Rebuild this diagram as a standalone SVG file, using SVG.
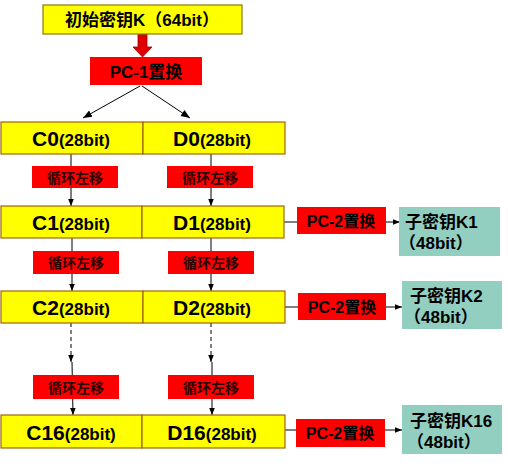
<svg xmlns="http://www.w3.org/2000/svg" width="508" height="471" viewBox="0 0 508 471">
<defs>
<style>
.y{fill:#FFFF00;stroke:#A0640A;stroke-width:1.2}
.r{fill:#FF0000;stroke:none}
.t{fill:#93CFC0;stroke:none}
.tx{font-family:"Liberation Sans","Noto Sans CJK SC",sans-serif;font-weight:bold;fill:#000}
.big{font-size:21px}
.sm{font-size:17px}
.cj{font-family:"Noto Sans CJK SC",sans-serif;font-size:14px;font-weight:bold;fill:#2a0000}
.ln{stroke:#000;stroke-width:1;fill:none}
.ds{stroke:#000;stroke-width:1;fill:none;stroke-dasharray:4,3}
</style>
<marker id="ah" viewBox="0 0 10 10" refX="10" refY="5" markerWidth="7" markerHeight="7" orient="auto" markerUnits="userSpaceOnUse">
<path d="M0,1 L10,5 L0,9 z" fill="#000"/>
</marker>
<marker id="ah2" viewBox="0 0 10 10" refX="10" refY="5" markerWidth="9" markerHeight="9" orient="auto" markerUnits="userSpaceOnUse">
<path d="M0,1 L10,5 L0,9 z" fill="#000"/>
</marker>
</defs>
<rect width="508" height="471" fill="#fff"/>
<g id="connectors">
<path d="M138,34 H147 V47 H152 L142.5,57 L133,47 H138 Z" fill="#E00000" stroke="#A00000" stroke-width="0.8"/>
<line class="ln" x1="140" y1="86" x2="83" y2="118" marker-end="url(#ah2)"/>
<line class="ln" x1="142" y1="86" x2="190" y2="118" marker-end="url(#ah2)"/>
<line class="ln" x1="71" y1="154" x2="71" y2="206" marker-end="url(#ah)"/>
<line class="ln" x1="211" y1="154" x2="211" y2="206" marker-end="url(#ah)"/>
<line class="ln" x1="72" y1="238" x2="72" y2="291" marker-end="url(#ah)"/>
<line class="ln" x1="211" y1="238" x2="211" y2="291" marker-end="url(#ah)"/>
<line class="ds" x1="71" y1="323" x2="71" y2="362" marker-end="url(#ah)"/>
<line class="ds" x1="211" y1="323" x2="211" y2="362" marker-end="url(#ah)"/>
<line class="ln" x1="72" y1="362" x2="73" y2="415" marker-end="url(#ah)"/>
<line class="ln" x1="212" y1="362" x2="212" y2="415" marker-end="url(#ah)"/>
<line class="ln" x1="284" y1="222" x2="297" y2="222"/>
<line class="ln" x1="386" y1="222" x2="400" y2="222" marker-end="url(#ah)"/>
<line class="ln" x1="285" y1="307" x2="298" y2="307"/>
<line class="ln" x1="386" y1="307" x2="402" y2="307" marker-end="url(#ah)"/>
<line class="ln" x1="285" y1="430" x2="296" y2="430"/>
<line class="ln" x1="385" y1="430" x2="402" y2="430" marker-end="url(#ah)"/>
</g>
<g id="key">
<rect x="43" y="5" width="199" height="29" fill="#FFFF00" stroke="#8B7A00" stroke-width="1.2"/>
<text class="tx sm" x="142" y="26" text-anchor="middle">初始密钥K（64bit）</text>
</g>
<g id="pc1">
<rect class="r" x="90" y="57" width="112" height="28"/>
<text class="tx sm" x="146" y="78" text-anchor="middle">PC-1置换</text>
</g>
<g id="c0"><rect class="y" x="1" y="122" width="142" height="32"/><text class="tx" x="71" y="146" text-anchor="middle"><tspan class="big">C0</tspan><tspan class="sm">(28bit)</tspan></text></g>
<g id="d0"><rect class="y" x="143" y="122" width="142" height="32"/><text class="tx" x="212" y="146" text-anchor="middle"><tspan class="big">D0</tspan><tspan class="sm">(28bit)</tspan></text></g>
<g id="rc1"><rect class="r" x="32" y="166" width="86" height="22"/><text class="cj" x="75" y="183" text-anchor="middle">循环左移</text></g>
<g id="rd1"><rect class="r" x="167" y="166" width="86" height="22"/><text class="cj" x="210" y="183" text-anchor="middle">循环左移</text></g>
<g id="c1"><rect class="y" x="1" y="206" width="141" height="32"/><text class="tx" x="71" y="230" text-anchor="middle"><tspan class="big">C1</tspan><tspan class="sm">(28bit)</tspan></text></g>
<g id="d1"><rect class="y" x="142" y="206" width="142" height="32"/><text class="tx" x="212" y="230" text-anchor="middle"><tspan class="big">D1</tspan><tspan class="sm">(28bit)</tspan></text></g>
<g id="pc2a"><rect class="r" x="297" y="207" width="89" height="27"/><text class="tx" x="341" y="227" text-anchor="middle" font-size="16">PC-2置换</text></g>
<g id="k1"><rect class="t" x="399" y="207" width="101" height="49"/><text class="tx sm" x="405" y="228">子密钥K1</text><text class="tx sm" x="399" y="249">（48bit）</text></g>
<g id="rc2"><rect class="r" x="33" y="251" width="86" height="23"/><text class="cj" x="76" y="268" text-anchor="middle">循环左移</text></g>
<g id="rd2"><rect class="r" x="168" y="251" width="86" height="23"/><text class="cj" x="211" y="268" text-anchor="middle">循环左移</text></g>
<g id="c2"><rect class="y" x="1" y="291" width="142" height="32"/><text class="tx" x="71" y="315" text-anchor="middle"><tspan class="big">C2</tspan><tspan class="sm">(28bit)</tspan></text></g>
<g id="d2"><rect class="y" x="143" y="291" width="142" height="32"/><text class="tx" x="212" y="315" text-anchor="middle"><tspan class="big">D2</tspan><tspan class="sm">(28bit)</tspan></text></g>
<g id="pc2b"><rect class="r" x="298" y="293" width="88" height="27"/><text class="tx" x="342" y="313" text-anchor="middle" font-size="16">PC-2置换</text></g>
<g id="k2"><rect class="t" x="402" y="281" width="100" height="48"/><text class="tx sm" x="410" y="302">子密钥K2</text><text class="tx sm" x="404" y="323">（48bit）</text></g>
<g id="rc16"><rect class="r" x="33" y="375" width="86" height="24"/><text class="cj" x="76" y="393" text-anchor="middle">循环左移</text></g>
<g id="rd16"><rect class="r" x="168" y="375" width="86" height="24"/><text class="cj" x="211" y="393" text-anchor="middle">循环左移</text></g>
<g id="c16"><rect class="y" x="1" y="415" width="141" height="33"/><text class="tx" x="71" y="440" text-anchor="middle"><tspan class="big">C16</tspan><tspan class="sm">(28bit)</tspan></text></g>
<g id="d16"><rect class="y" x="142" y="415" width="143" height="33"/><text class="tx" x="212" y="440" text-anchor="middle"><tspan class="big">D16</tspan><tspan class="sm">(28bit)</tspan></text></g>
<g id="pc2c"><rect class="r" x="296" y="419" width="89" height="28"/><text class="tx" x="340" y="439" text-anchor="middle" font-size="16">PC-2置换</text></g>
<g id="k16"><rect class="t" x="402" y="405" width="100" height="49"/><text class="tx sm" x="410" y="427">子密钥K16</text><text class="tx sm" x="407" y="448">（48bit）</text></g>
</svg>
